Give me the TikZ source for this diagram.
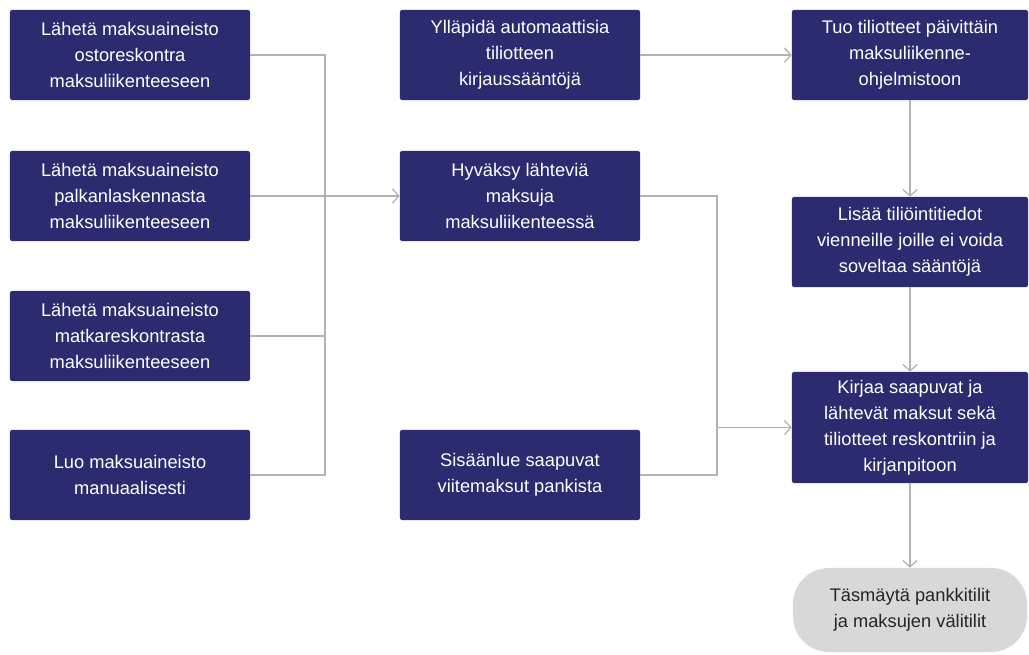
\documentclass[tikz,border=0pt]{standalone}
\usepackage{fontspec}
\setmainfont{Liberation Sans}
\usetikzlibrary{arrows.meta}
\definecolor{navy}{RGB}{44,43,112}
\definecolor{linegray}{RGB}{178,178,178}
\definecolor{endgray}{RGB}{216,216,216}
\tikzset{
  stepbox/.style={draw=none, fill=navy, text=white, rounded corners=1.5pt, align=center,
    minimum width=6cm, minimum height=2.25cm, inner sep=2pt,
    font=\fontsize{13}{18.5}\selectfont},
  endbox/.style={stepbox, fill=endgray, text=black!85, rounded corners=0.9cm,
    minimum width=5.85cm, minimum height=2.1cm},
  conn/.style={draw=linegray, line width=1pt},
  arr/.style={conn, -{Straight Barb[length=1.6mm, width=3.6mm, line width=0.9pt]}}
}
\begin{document}
\begin{tikzpicture}[x=0.025cm, y=-0.025cm]
\useasboundingbox (0,0) rectangle (1029,655);

% left column: payment sources
\node[stepbox] (src1) at (130,55) {Lähetä maksuaineisto\\ostoreskontra\\maksuliikenteeseen};
\node[stepbox] (src2) at (130,196) {Lähetä maksuaineisto\\palkanlaskennasta\\maksuliikenteeseen};
\node[stepbox] (src3) at (130,336) {Lähetä maksuaineisto\\matkareskontrasta\\maksuliikenteeseen};
\node[stepbox] (src4) at (130,475) {Luo maksuaineisto\\manuaalisesti};

% middle column
\node[stepbox] (rules) at (520,55) {Ylläpidä automaattisia\\tiliotteen\\kirjaussääntöjä};
\node[stepbox] (approve) at (520,196) {Hyväksy lähteviä\\maksuja\\maksuliikenteessä};
\node[stepbox] (refs) at (520,475) {Sisäänlue saapuvat\\viitemaksut pankista};

% right column
\node[stepbox, minimum width=5.9cm] (import) at (910,55) {Tuo tiliotteet päivittäin\\maksuliikenne-\\ohjelmistoon};
\node[stepbox, minimum width=5.9cm] (manual) at (910,242) {Lisää tiliöintitiedot\\vienneille joille ei voida\\soveltaa sääntöjä};
\node[stepbox, minimum width=5.9cm, minimum height=2.775cm] (post) at (910,427.5) {Kirjaa saapuvat ja\\lähtevät maksut sekä\\tiliotteet reskontriin ja\\kirjanpitoon};
\node[endbox] (match) at (910,610) {Täsmäytä pankkitilit\\ja maksujen välitilit};

% joins
\coordinate (trunk) at (325,0);
\coordinate (merge) at (717,0);

\draw[conn] (src1.east) -- (trunk |- src1.east) -- (trunk |- src4.east) -- (src4.east);
\draw[conn] (src3.east) -- (trunk |- src3.east);
\draw[arr] (src2.east) -- (approve.west);

\draw[arr] (rules.east) -- (import.west);
\draw[conn] (approve.east) -- (merge |- approve.east) -- (merge |- refs.east) -- (refs.east);
\draw[arr] (merge |- post.west) -- (post.west);

\draw[arr] (import.south) -- (manual.north);
\draw[arr] (manual.south) -- (post.north);
\draw[arr] (post.south) -- (match.north);
\end{tikzpicture}
\end{document}
